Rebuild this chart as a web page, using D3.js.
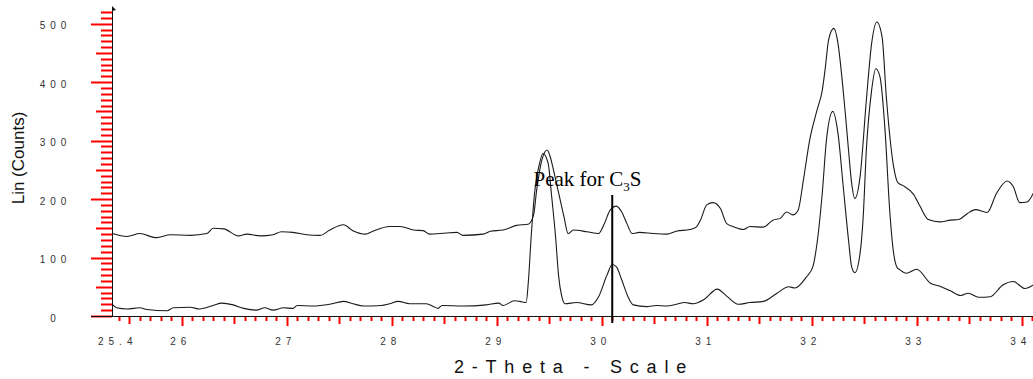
<!DOCTYPE html>
<html>
<head>
<meta charset="utf-8">
<script src="https://cdn.jsdelivr.net/npm/d3@7"></script>
<style>
  html, body { margin: 0; padding: 0; background: #fff; }
  .tick-label { font-family: "Liberation Sans", Arial, sans-serif; font-size: 10px; fill: #333; }
</style>
</head>
<body>
<div id="chart"></div>
<script>
// 2-theta positions and counts (upper and lower trace)
const upperTheta = [25.34,25.48,25.60,25.76,25.89,26.08,26.24,26.30,26.40,26.54,26.62,26.75,26.87,26.95,27.06,27.19,27.32,27.41,27.54,27.63,27.75,27.82,27.98,28.08,28.21,28.30,28.36,28.52,28.62,28.68,28.87,28.94,29.06,29.19,29.30,29.35,29.38,29.43,29.48,29.51,29.54,29.59,29.64,29.68,29.73,29.86,29.97,30.02,30.08,30.14,30.19,30.24,30.29,30.36,30.49,30.62,30.71,30.84,30.90,30.94,31.00,31.06,31.13,31.19,31.25,31.35,31.41,31.54,31.63,31.70,31.76,31.82,31.87,31.92,31.98,32.05,32.10,32.13,32.16,32.21,32.25,32.29,32.32,32.35,32.38,32.41,32.46,32.52,32.57,32.62,32.67,32.71,32.78,32.82,32.87,32.97,33.03,33.11,33.22,33.32,33.40,33.48,33.56,33.67,33.76,33.86,33.92,33.98,34.05,34.11];
const upperCounts = [141,136,141,134,139,138,141,150,149,137,140,137,139,144,143,139,138,147,156,146,140,145,153,153,147,146,140,142,143,138,140,145,147,155,157,172,215,267,284,272,250,210,170,141,147,144,141,156,181,188,178,158,141,143,141,140,145,148,152,164,190,194,184,158,153,148,153,152,164,167,178,173,181,232,301,352,386,426,472,492,466,403,346,284,227,201,238,369,466,503,477,375,255,228,223,208,188,165,161,164,165,175,182,177,210,231,221,194,195,210];

const lowerTheta = [25.34,25.38,25.48,25.60,25.67,25.86,25.92,26.08,26.17,26.30,26.38,26.49,26.59,26.71,26.79,26.87,26.97,27.06,27.10,27.25,27.41,27.54,27.63,27.73,27.90,27.98,28.06,28.17,28.33,28.40,28.44,28.48,28.68,28.90,29.02,29.06,29.17,29.22,29.28,29.30,29.33,29.36,29.40,29.44,29.49,29.52,29.56,29.59,29.62,29.65,29.76,29.90,29.97,30.05,30.10,30.14,30.19,30.25,30.30,30.43,30.52,30.62,30.71,30.79,30.87,30.98,31.10,31.19,31.30,31.41,31.54,31.67,31.78,31.84,31.95,32.01,32.05,32.10,32.14,32.20,32.25,32.30,32.35,32.38,32.41,32.46,32.49,32.52,32.57,32.61,32.65,32.70,32.74,32.78,32.81,32.84,32.90,33.00,33.13,33.22,33.32,33.42,33.49,33.59,33.70,33.82,33.92,34.03,34.11];
const lowerCounts = [20,14,12,14,11,9,14,15,12,18,22,19,13,10,14,10,14,13,18,17,20,25,21,17,18,21,25,21,21,16,13,18,17,19,22,18,26,25,23,56,141,210,255,278,261,210,136,67,33,21,23,19,33,70,88,84,62,33,19,16,18,17,20,23,21,29,46,34,20,23,25,39,50,48,67,84,124,210,301,350,312,221,130,84,74,107,170,284,386,423,409,312,187,107,84,79,73,80,56,51,43,35,39,32,33,53,59,47,53];

// C3S marker
const markerTheta = 30.1;
const markerRange = [-12, 207];

// tick labels
const xLabelValues = [25.4, 26, 27, 28, 29, 30, 31, 32, 33, 34];
const xLabels = ["25.4", "26", "27", "28", "29", "30", "31", "32", "33", "34"];
const yLabelValues = [0, 100, 200, 300, 400, 500];
const yLabels = ["0", "100", "200", "300", "400", "500"];

const width = 1033, height = 379;
const margin = { top: 7, left: 112, right: 0 };
const axisY = 316;

const svg = d3.select("#chart").append("svg")
    .attr("width", width)
    .attr("height", height)
    .style("display", "block");

const x = d3.scaleLinear()
    .domain([25.336, 34.107])
    .range([margin.left, width - margin.right]);

const y = d3.scaleLinear()
    .domain([0, 500])
    .range([axisY, 23.7]);

// y ticks: every 10 counts, longer at 50s and 100s, drawn to the left
const yTickPath = d3.path();
d3.range(0, 530, 10).forEach(d => {
    const len = d % 100 === 0 ? 21 : d % 50 === 0 ? 16 : 11;
    const py = Math.round(y(d)) + 0.5;
    yTickPath.moveTo(margin.left - len, py);
    yTickPath.lineTo(margin.left, py);
});
svg.append("path")
    .attr("d", yTickPath.toString())
    .attr("fill", "none")
    .attr("stroke", "red")
    .attr("stroke-width", 2);

// x ticks: every 0.1 degree, longer at halves and whole degrees
const xTickPath = d3.path();
d3.range(254, 342).forEach(t => {
    const len = t % 10 === 0 ? 10 : t % 5 === 0 ? 8 : 5;
    const px = Math.round(x(t / 10)) + 0.5;
    xTickPath.moveTo(px, axisY);
    xTickPath.lineTo(px, axisY + len);
});
svg.append("path")
    .attr("d", xTickPath.toString())
    .attr("fill", "none")
    .attr("stroke", "red")
    .attr("stroke-width", 2);

// axis lines
svg.append("path")
    .attr("d", `M${margin.left + 0.5},${axisY}V${margin.top}M91,${axisY + 0.5}H${width}`)
    .attr("fill", "none")
    .attr("stroke", "#111")
    .attr("stroke-width", 1);
svg.append("path")
    .attr("d", `M${margin.left},${margin.top - 1}L${margin.left + 4},${margin.top + 3}L${margin.left},${margin.top + 4}Z`)
    .attr("fill", "#111");

// traces
const traceLine = d3.line()
    .x(d => x(d[0]))
    .y(d => y(d[1]))
    .curve(d3.curveMonotoneX);

svg.append("path")
    .datum(d3.zip(upperTheta, upperCounts))
    .attr("d", traceLine)
    .attr("fill", "none")
    .attr("stroke", "#1a1a1a")
    .attr("stroke-width", 1.1);

svg.append("path")
    .datum(d3.zip(lowerTheta, lowerCounts))
    .attr("d", traceLine)
    .attr("fill", "none")
    .attr("stroke", "#1a1a1a")
    .attr("stroke-width", 1.1);

// tick labels
svg.append("g")
    .selectAll("text")
    .data(yLabelValues)
    .join("text")
    .attr("class", "tick-label")
    .attr("x", 55.5)
    .attr("y", d => y(d) + 5.5)
    .attr("text-anchor", "middle")
    .style("letter-spacing", "5px")
    .text((d, i) => yLabels[i]);

svg.append("g")
    .selectAll("text")
    .data(xLabelValues)
    .join("text")
    .attr("class", "tick-label")
    .attr("x", d => x(d) - 1)
    .attr("y", 344.5)
    .attr("text-anchor", "middle")
    .style("letter-spacing", "5px")
    .text((d, i) => xLabels[i]);

// axis titles
svg.append("text")
    .attr("x", 574)
    .attr("y", 373)
    .attr("text-anchor", "middle")
    .style("font-family", "Liberation Sans, Arial, sans-serif")
    .style("font-size", "18px")
    .style("letter-spacing", "7.8px")
    .attr("fill", "#111")
    .text("2-Theta - Scale");

svg.append("text")
    .attr("transform", "rotate(-90)")
    .attr("x", -158)
    .attr("y", 24)
    .attr("text-anchor", "middle")
    .style("font-family", "Liberation Sans, Arial, sans-serif")
    .style("font-size", "17px")
    .attr("fill", "#111")
    .text("Lin (Counts)");

// marker line at the C3S peak
svg.append("path")
    .attr("d", `M${x(markerTheta)},${y(markerRange[1])}V${y(markerRange[0])}`)
    .attr("stroke", "#000")
    .attr("stroke-width", 2);

// annotation
const note = svg.append("text")
    .attr("x", x(29.35))
    .attr("y", y(222))
    .style("font-family", "Liberation Serif, Times New Roman, serif")
    .style("font-size", "21px")
    .attr("fill", "#000");
note.append("tspan").text("Peak for C");
note.append("tspan").attr("dy", 5).style("font-size", "13px").text("3");
note.append("tspan").attr("dy", -5).text("S");
</script>
</body>
</html>
